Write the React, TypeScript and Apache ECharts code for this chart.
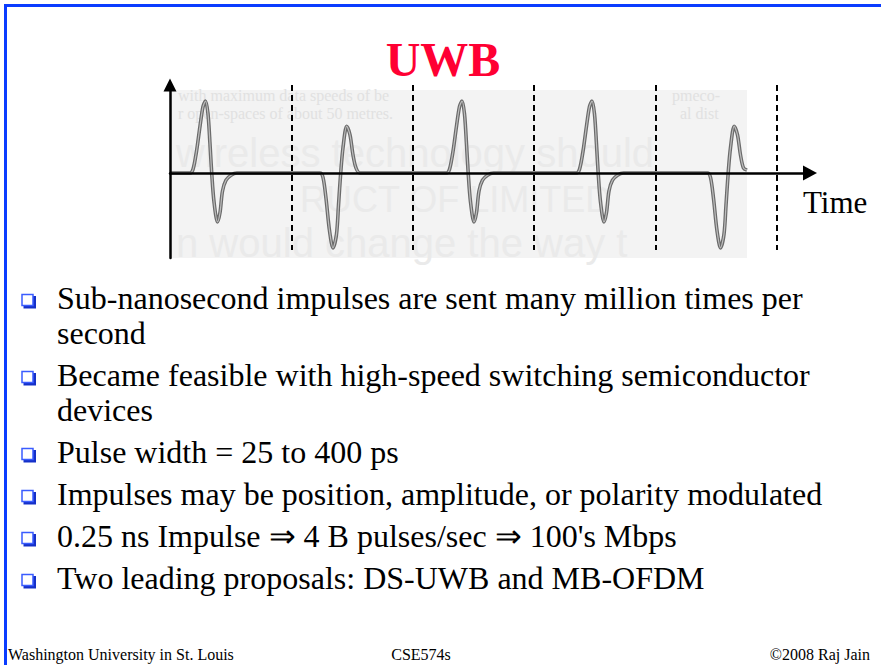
import { useEffect, useRef } from "react";
import * as echarts from "echarts";

// ---- data (time in pulse slots, amplitude relative to the tallest lobe) ----
const pulse1 = [
  [0.1647, 0], [0.1895, 0.05], [0.2183, 0.3], [0.2471, 0.65], [0.2718, 0.92], [0.2924, 1.0],
  [0.313, 0.82], [0.3295, 0.4], [0.3435, 0], [0.3624, -0.4], [0.3913, -0.68], [0.4119, -0.55],
  [0.4325, -0.25], [0.4613, -0.1], [0.5025, -0.03], [0.5519, 0],
];
const pulse2 = [
  [1.2356, 0], [1.2603, -0.06], [1.285, -0.35], [1.3138, -0.8], [1.3427, -1.04], [1.3715, -0.85],
  [1.388, -0.45], [1.4061, 0], [1.425, 0.35], [1.4555, 0.65], [1.4827, 0.53], [1.5074, 0.25],
  [1.5321, 0.07], [1.5651, 0],
];
const pulse3 = [
  [2.2776, 0], [2.3024, 0.05], [2.3312, 0.3], [2.36, 0.65], [2.3847, 0.92], [2.4053, 1.0],
  [2.4259, 0.82], [2.4424, 0.4], [2.4564, 0], [2.4753, -0.4], [2.5042, -0.68], [2.5248, -0.55],
  [2.5454, -0.25], [2.5742, -0.1], [2.6154, -0.03], [2.6648, 0],
];
const pulse4 = [
  [3.3484, 0], [3.3732, 0.05], [3.402, 0.3], [3.4308, 0.65], [3.4555, 0.92], [3.4761, 1.0],
  [3.4967, 0.82], [3.5132, 0.4], [3.5272, 0], [3.5461, -0.4], [3.575, -0.68], [3.5956, -0.55],
  [3.6162, -0.25], [3.645, -0.1], [3.6862, -0.03], [3.7356, 0],
];
const pulse5 = [
  [4.4276, 0], [4.4523, -0.06], [4.477, -0.35], [4.5058, -0.8], [4.5347, -1.04], [4.5635, -0.85],
  [4.58, -0.45], [4.5981, 0], [4.617, 0.35], [4.6475, 0.65], [4.6747, 0.53], [4.6994, 0.25],
  [4.7241, 0.07], [4.753, 0.04],
];
const slotBoundaries = [1, 2, 3, 4, 5];
const imageExtentX = [0, 4.753];
const imageTop = 1.153;
const dashExtentY = [1.222, -1.069];
const axisRangeX = [0, 5.272];
const axisRangeY = [-1.181, 1.222];

const titleText = "UWB";
const axisName = "Time";
const bullets = [
  ["Sub-nanosecond impulses are sent many million times per", "second"],
  ["Became feasible with high-speed switching semiconductor", "devices"],
  ["Pulse width = 25 to 400 ps"],
  ["Impulses may be position, amplitude, or polarity modulated"],
  ["0.25 ns Impulse \u21D2 4 B pulses/sec \u21D2 100's Mbps"],
  ["Two leading proposals: DS-UWB and MB-OFDM"],
];
const footerLeft = "Washington University in St. Louis";
const footerCenter = "CSE574s";
const footerRight = "\u00A92008 Raj Jain";

// faint text of the scanned background picture
const ghostLines: [string, number, number, number, string][] = [
  ["with maximum data speeds of be", 178, 101, 16, "serif"],
  ["pmeco-", 672, 101, 16, "serif"],
  ["r open-spaces of about 50 metres.", 178, 119, 16, "serif"],
  ["al dist", 680, 119, 16, "serif"],
  ["wireless technology should", 176, 166, 40, "sans"],
  ["RUCT OF LIMITED", 300, 212, 36, "sans"],
  ["n would change the way t", 176, 256, 40, "sans"],
];

const SERIF = '"Liberation Serif", "Times New Roman", serif';
const SANS = '"Liberation Sans", Arial, sans-serif';

// centre line of a text given its baseline (Liberation fonts, dominant-baseline central)
const mid = (baseline: number, fs: number) => baseline - 0.3375 * fs;

export default function App() {
  const ref = useRef<HTMLDivElement>(null);

  useEffect(() => {
    if (!ref.current) return;
    const chart = echarts.init(ref.current, null, { renderer: "svg" });
    const waveform = [[0, 0], ...pulse1, ...pulse2, ...pulse3, ...pulse4, ...pulse5];

    const graphics: any[] = [];
    // slide frame
    graphics.push({ type: "rect", shape: { x: 4, y: 4, width: 877, height: 3 }, style: { fill: "#0a3cff" }, z: 10 });
    graphics.push({ type: "rect", shape: { x: 4, y: 4, width: 3, height: 661 }, style: { fill: "#0a3cff" }, z: 10 });

    // ghost text of background picture
    ghostLines.forEach(([t, x, b, fs, fam]) => {
      graphics.push({
        type: "text",
        z: 1.5,
        silent: true,
        style: {
          text: t, x, y: mid(b, fs),
          width: 745 - x, overflow: "truncate", ellipsis: "",
          font: `${fs}px ${fam === "sans" ? SANS : SERIF}`,
          fill: fam === "sans" ? "#eaeaea" : "#e1e1e1",
          align: "left", textAlign: "left", verticalAlign: "middle", textVerticalAlign: "middle",
        },
      });
    });

    // title
    graphics.push({
      type: "text", z: 10,
      style: {
        text: titleText, x: 443, y: mid(76, 48),
        font: `bold 48px ${SERIF}`, fill: "#ff0033",
        align: "center", textAlign: "center", verticalAlign: "middle", textVerticalAlign: "middle",
        textShadowColor: "#9a9a9a", textShadowOffsetX: 2.5, textShadowOffsetY: 2.5, textShadowBlur: 0,
      },
    });
    // axis name
    graphics.push({
      type: "text", z: 10,
      style: {
        text: axisName, x: 803, y: mid(213, 31),
        font: `31px ${SERIF}`, fill: "#000",
        align: "left", textAlign: "left", verticalAlign: "middle", textVerticalAlign: "middle",
      },
    });

    // bullets
    const fs = 32;
    let baseline = 309;
    bullets.forEach((lines, bi) => {
      if (bi > 0) baseline += 42;
      graphics.push({ type: "rect", z: 10, shape: { x: 23.5, y: baseline - 13, width: 12.5, height: 12.5 }, style: { fill: "#1530c8" } });
      graphics.push({ type: "rect", z: 10, shape: { x: 22, y: baseline - 14.5, width: 11, height: 11 }, style: { fill: "#ffffff", stroke: "#3a5cff", lineWidth: 1.5 } });
      lines.forEach((ln, li) => {
        if (li > 0) baseline += 35;
        graphics.push({
          type: "text", z: 10,
          style: {
            text: ln, x: 57, y: mid(baseline, fs),
            font: `${fs}px ${SERIF}`, fill: "#000",
            align: "left", textAlign: "left", verticalAlign: "middle", textVerticalAlign: "middle",
          },
        });
      });
    });

    // footer
    const ffs = 16;
    const fy = mid(660, ffs);
    [
      [footerLeft, 8, "left"],
      [footerCenter, 421, "center"],
      [footerRight, 870, "right"],
    ].forEach(([t, x, a]) => {
      graphics.push({
        type: "text", z: 10,
        style: {
          text: t, x, y: fy, font: `${ffs}px ${SERIF}`, fill: "#000",
          align: a, textAlign: a, verticalAlign: "middle", textVerticalAlign: "middle",
        },
      });
    });

    chart.setOption({
      animation: false,
      backgroundColor: "#ffffff",
      grid: { left: 170, right: 71, top: 85, bottom: 407, containLabel: false },
      xAxis: {
        type: "value", min: axisRangeX[0], max: axisRangeX[1], z: 3,
        axisLine: { show: true, onZero: true, symbol: ["none", "triangle"], symbolSize: [15, 14], lineStyle: { color: "#000", width: 2.5 } },
        axisTick: { show: false }, axisLabel: { show: false }, splitLine: { show: false },
      },
      yAxis: {
        type: "value", min: axisRangeY[0], max: axisRangeY[1], z: 3,
        axisLine: { show: true, symbol: ["none", "triangle"], symbolSize: [13, 13], lineStyle: { color: "#000", width: 2.5 } },
        axisTick: { show: false }, axisLabel: { show: false }, splitLine: { show: false },
      },
      series: [
        {
          type: "line", name: "picture", data: [], z: 1, silent: true,
          markArea: {
            silent: true, itemStyle: { color: "#f3f3f3" },
            data: [[{ coord: [imageExtentX[0], imageTop] }, { coord: [imageExtentX[1], axisRangeY[0]] }]],
          },
        },
        {
          type: "line", name: "pulseEdge", data: waveform, z: 2, silent: true,
          showSymbol: false, symbol: "none", smooth: 0.3,
          lineStyle: { color: "#6b6b6b", width: 3.6 },
        },
        {
          type: "line", name: "pulseCore", data: waveform, z: 2, silent: true,
          showSymbol: false, symbol: "none", smooth: 0.3,
          lineStyle: { color: "#bdbdbd", width: 1.2 },
          markLine: {
            silent: true, symbol: ["none", "none"], label: { show: false },
            emphasis: { disabled: true },
            lineStyle: { color: "#000", type: [6, 4], width: 2 },
            data: slotBoundaries.map((d) => [{ coord: [d, dashExtentY[0]] }, { coord: [d, dashExtentY[1]] }]),
          },
        },
      ],
      graphic: { elements: graphics },
    });

    return () => chart.dispose();
  }, []);

  return (
    <div
      ref={ref}
      style={{ position: "absolute", left: 0, top: 0, width: 881, height: 665, background: "#fff" }}
    />
  );
}
